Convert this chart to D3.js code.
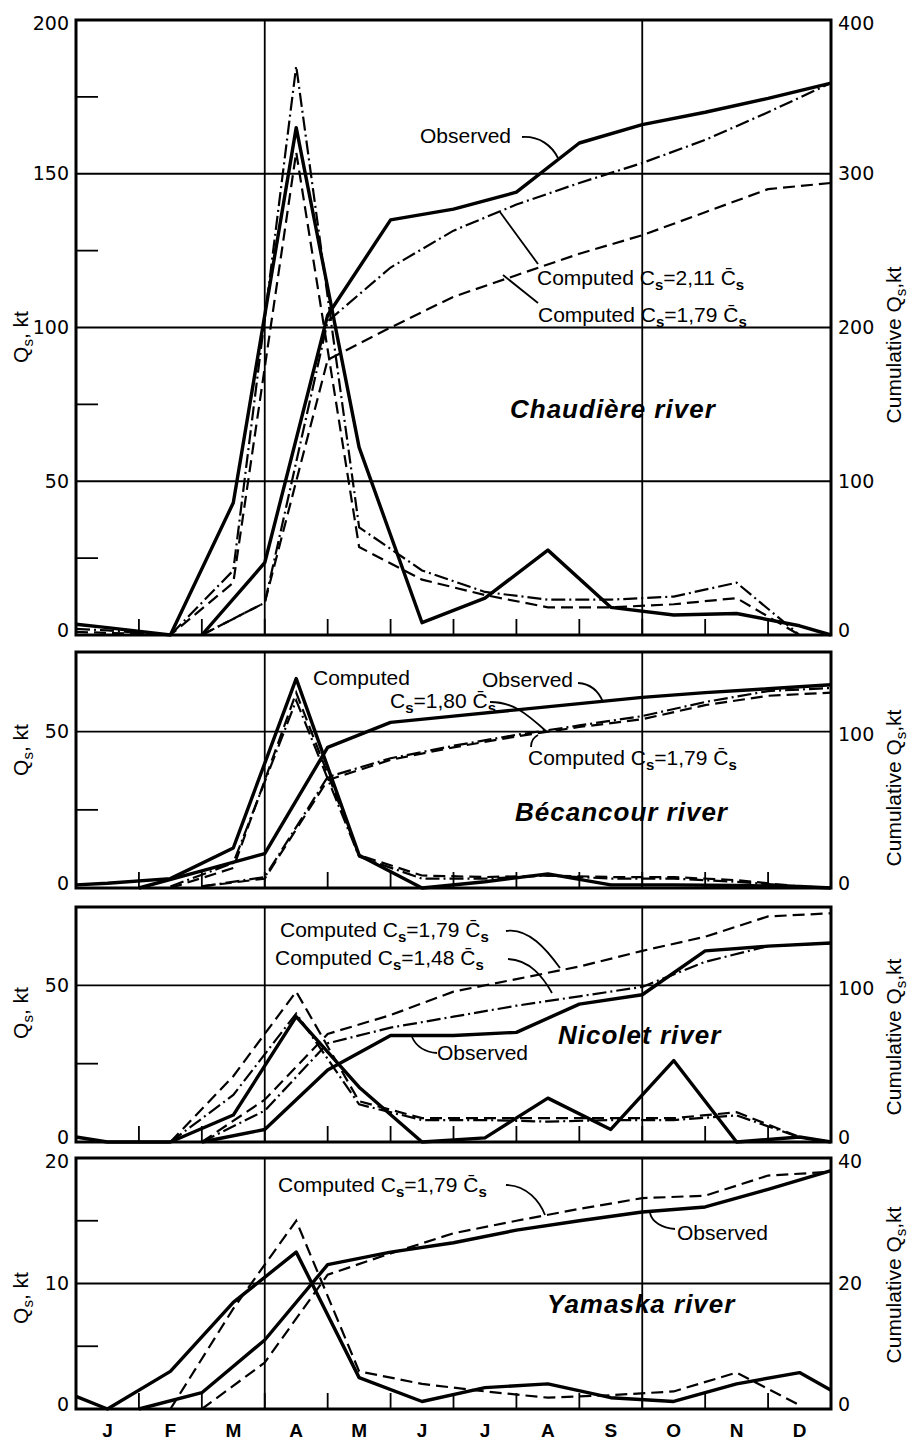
<!DOCTYPE html>
<html lang="en">
<head>
<meta charset="UTF-8">
<title>Monthly and cumulative suspended sediment load</title>
<style>
  body { margin: 0; background: #fff; }
  svg { display: block; }
  .frame { fill: none; stroke: #000; stroke-width: 3; }
  .grid { stroke: #000; stroke-width: 1.8; }
  .tick { stroke: #000; stroke-width: 1.8; }
  .tick-label { font-family: "DejaVu Sans", sans-serif; font-size: 19px; fill: #000; }
  .axis-title { font-family: "Liberation Sans", Arial, sans-serif; font-size: 21px; fill: #000; }
  .note { font-family: "Liberation Sans", Arial, sans-serif; font-size: 21px; fill: #000; }
  .river { font-family: "Liberation Sans", Arial, sans-serif; font-size: 26px; font-weight: bold; font-style: italic; letter-spacing: 1px; }
  .month { font-family: "Liberation Sans", Arial, sans-serif; font-size: 19px; font-weight: bold; }
  .leader { fill: none; stroke: #000; stroke-width: 1.8; }
  .observed { fill: none; stroke: #000; stroke-width: 3.4; stroke-linejoin: round; }
  .dashed { fill: none; stroke: #000; stroke-width: 2.2; stroke-dasharray: 12 6; }
  .dashdot { fill: none; stroke: #000; stroke-width: 2.2; stroke-dasharray: 14 4 2 4; }
</style>
</head>
<body>
<div id="chart"></div>
<script src="https://d3js.org/d3.v7.min.js"></script>
<script>
// ---- data ----
var months = ["J", "F", "M", "A", "M", "J", "J", "A", "S", "O", "N", "D"];
// x positions, in months from 1 January
var monthlyAt = [0, 0.5, 1.5, 2.5, 3.5, 4.5, 5.5, 6.5, 7.5, 8.5, 9.5, 10.5, 11.5, 12];
var cumulativeAt = [0, 1, 2, 3, 4, 5, 6, 7, 8, 9, 10, 11, 12];

// Chaudière river: monthly Qs (kt) and cumulative Qs (kt)
var chaudObs = [3.5, 2.4, 0, 43, 165, 61, 4, 12, 27.6, 9, 6.5, 7, 3, 0];
var chaudC211 = [2, 1.5, 0, 21, 185, 35, 21, 14, 11.5, 11.5, 12.5, 17, 0, null];
var chaudC179 = [1, 0.7, 0, 17, 157, 28.6, 18, 13, 9, 9, 10, 12, 0, null];
var chaudCumObs = [null, null, 0, 47, 208, 270, 277, 288, 320, 332, 340, 349, 359];
var chaudCumC211 = [null, null, 0, 21, 204, 239, 263, 280, 294, 307, 322, 340, 359];
var chaudCumC179 = [null, null, 0, 21, 179, 200, 220, 234, 248, 260, 275, 290, 294];
var chaudLeftTicks = [0, 50, 100, 150, 200];
var chaudMinorTicks = [25, 75, 125, 175];
var chaudRightTicks = [0, 100, 200, 300, 400];

// Bécancour river
var becObs = [1, 1.5, 3, 12.8, 67, 10.5, 0, 2, 4.5, 1, 1, 0.8, 0.5, 0];
var becC180 = [null, null, 0.5, 8, 60, 10, 3, 3, 4, 3, 3, 2, 0.5, 0];
var becC179 = [null, null, 0, 6.4, 62.5, 10.5, 4, 3.5, 4, 3.5, 3.5, 2.5, 0.5, 0];
var becCumObs = [null, 0, 11, 22, 90, 106, 110, 114, 118, 122, 125, 127.5, 130];
var becCumC180 = [null, null, 1, 7, 71, 83, 91, 98, 104, 110, 119, 126, 128];
var becCumC179 = [null, null, 1, 6, 69, 82, 90, 97, 103, 108, 117, 123, 125];
var becLeftTicks = [0, 50];
var becMinorTicks = [25];
var becRightTicks = [0, 100];

// Nicolet river
var nicObs = [1.6, 0, 0, 8.6, 40, 17.5, 0, 1.3, 14, 4, 26, 0, 1.6, 0];
var nicC179 = [null, null, 0, 21, 48, 13, 7.6, 7.6, 7.6, 7.6, 7.6, 9.5, 1.6, 0];
var nicC148 = [null, null, 0, 15, 41, 12, 7, 7, 6.5, 7, 7, 8.5, 1.5, 0];
var nicCumObs = [null, null, 0, 8, 46, 68, 68, 70, 88, 94, 122, 125, 127];
var nicCumC179 = [null, null, 0, 27, 69, 81, 96, 104, 112, 122, 131, 144, 146];
var nicCumC148 = [null, null, 0, 20, 63, 73, 80, 87, 93, 99, 115, 125, 127];
var nicLeftTicks = [0, 50];
var nicMinorTicks = [25];
var nicRightTicks = [0, 100];

// Yamaska river
var yamObs = [1, 0, 3, 8.5, 12.5, 2.5, 0.6, 1.7, 2, 0.9, 0.6, 2, 2.9, 1.5];
var yamC179 = [null, null, 0, 8, 15, 3, 2, 1.4, 0.9, 1.1, 1.4, 2.9, 0.3, null];
var yamCumObs = [null, 0, 2.6, 11, 23, 25, 26.5, 28.5, 30, 31.4, 32.2, 35, 38];
var yamCumC179 = [null, null, 0, 7.4, 21.4, 24.8, 28, 30, 31.9, 33.6, 34, 37.2, 37.8];
var yamLeftTicks = [0, 10, 20];
var yamMinorTicks = [5, 15];
var yamRightTicks = [0, 20, 40];

// ---- layout ----
var width = 914, height = 1443;
var left = 76, right = 831;

var svg = d3.select("#chart").append("svg")
  .attr("width", width)
  .attr("height", height);

var x = d3.scaleLinear().domain([0, 12]).range([left, right]);

function toPoints(xs, ys) {
  return xs.map(function(v, i) { return [v, ys[i]]; });
}

// "Computed Cs=k C̄s" style text
function csText(g, px, py, prefix, coef) {
  var t = g.append("text").attr("class", "note").attr("x", px).attr("y", py);
  if (prefix) t.append("tspan").text(prefix);
  t.append("tspan").text("C");
  t.append("tspan").attr("dy", 5).attr("font-size", 15).attr("font-weight", "bold").text("s");
  t.append("tspan").attr("dy", -5).text("=" + coef + " C\u0304");
  t.append("tspan").attr("dy", 5).attr("font-size", 15).attr("font-weight", "bold").text("s");
  return t;
}

var panels = [
  { river: "Chaudière river", top: 20, bottom: 635, max: 200,
    leftTicks: chaudLeftTicks, minor: chaudMinorTicks, rightTicks: chaudRightTicks,
    leftTitleY: 337, rightTitleY: 345, riverPos: [510, 418],
    monthly: [[chaudObs, "observed"], [chaudC211, "dashdot"], [chaudC179, "dashed"]],
    cumulative: [[chaudCumObs, "observed"], [chaudCumC211, "dashdot"], [chaudCumC179, "dashed"]],
    notes: function(g) {
      g.append("text").attr("class", "note").attr("x", 420).attr("y", 143).text("Observed");
      g.append("path").attr("class", "leader").attr("d", "M522,137 C540,136 552,146 558,158");
      csText(g, 537, 285, "Computed ", "2,11");
      g.append("path").attr("class", "leader").attr("d", "M538,264 L500,212");
      csText(g, 538, 322, "Computed ", "1,79");
      g.append("path").attr("class", "leader").attr("d", "M538,303 L503,275");
    } },
  { river: "Bécancour river", top: 652, bottom: 888, max: 75.5,
    leftTicks: becLeftTicks, minor: becMinorTicks, rightTicks: becRightTicks,
    leftTitleY: 750, rightTitleY: 788, riverPos: [515, 821],
    monthly: [[becObs, "observed"], [becC180, "dashdot"], [becC179, "dashed"]],
    cumulative: [[becCumObs, "observed"], [becCumC180, "dashdot"], [becCumC179, "dashed"]],
    notes: function(g) {
      g.append("text").attr("class", "note").attr("x", 313).attr("y", 685).text("Computed");
      csText(g, 390, 708, "", "1,80");
      g.append("path").attr("class", "leader").attr("d", "M490,702 C512,702 525,712 547,732");
      g.append("text").attr("class", "note").attr("x", 482).attr("y", 687).text("Observed");
      g.append("path").attr("class", "leader").attr("d", "M578,683 C592,684 599,692 603,702");
      csText(g, 528, 765, "Computed ", "1,79");
      g.append("path").attr("class", "leader").attr("d", "M531,747 C531,741 534,737 538,735");
    } },
  { river: "Nicolet river", top: 907, bottom: 1142, max: 75,
    leftTicks: nicLeftTicks, minor: nicMinorTicks, rightTicks: nicRightTicks,
    leftTitleY: 1013, rightTitleY: 1037, riverPos: [558, 1044],
    monthly: [[nicObs, "observed"], [nicC148, "dashdot"], [nicC179, "dashed"]],
    cumulative: [[nicCumObs, "observed"], [nicCumC148, "dashdot"], [nicCumC179, "dashed"]],
    notes: function(g) {
      csText(g, 280, 937, "Computed ", "1,79");
      g.append("path").attr("class", "leader").attr("d", "M506,931 C528,927 547,950 560,968");
      csText(g, 275, 965, "Computed ", "1,48");
      g.append("path").attr("class", "leader").attr("d", "M508,959 C530,960 543,977 552,993");
      g.append("text").attr("class", "note").attr("x", 437).attr("y", 1060).text("Observed");
      g.append("path").attr("class", "leader").attr("d", "M437,1053 C425,1052 416,1046 412,1037");
    } },
  { river: "Yamaska river", top: 1158, bottom: 1409, max: 20,
    leftTicks: yamLeftTicks, minor: yamMinorTicks, rightTicks: yamRightTicks,
    leftTitleY: 1298, rightTitleY: 1285, riverPos: [547, 1313],
    monthly: [[yamObs, "observed"], [yamC179, "dashed"]],
    cumulative: [[yamCumObs, "observed"], [yamCumC179, "dashed"]],
    notes: function(g) {
      csText(g, 278, 1192, "Computed ", "1,79");
      g.append("path").attr("class", "leader").attr("d", "M506,1185 C527,1185 540,1202 545,1215");
      g.append("text").attr("class", "note").attr("x", 677).attr("y", 1240).text("Observed");
      g.append("path").attr("class", "leader").attr("d", "M675,1229 C662,1228 652,1222 650,1213");
    } }
];

panels.forEach(function(p) {
  var g = svg.append("g");
  var y = d3.scaleLinear().domain([0, p.max]).range([p.bottom, p.top]);
  var y2 = d3.scaleLinear().domain([0, 2 * p.max]).range([p.bottom, p.top]);
  // zero labels sit a little above the bottom edge, top labels a little below the top
  var lift = function(d, i, arr) {
    if (d === 0) return -5;
    if (i === arr.length - 1 && y(d) <= p.top + 1) return 3;
    return 0;
  };

  // horizontal grid at major ticks
  g.selectAll(".hgrid").data(p.leftTicks.filter(function(d) { return d > 0 && d < p.max; }))
    .enter().append("line").attr("class", "grid")
    .attr("x1", left).attr("x2", right)
    .attr("y1", function(d) { return y(d); }).attr("y2", function(d) { return y(d); });
  // vertical grid at end of March and end of September
  g.selectAll(".vgrid").data([3, 9])
    .enter().append("line").attr("class", "grid")
    .attr("x1", function(d) { return x(d); }).attr("x2", function(d) { return x(d); })
    .attr("y1", p.top).attr("y2", p.bottom);
  // minor ticks on the left axis
  g.selectAll(".minor").data(p.minor)
    .enter().append("line").attr("class", "tick")
    .attr("x1", left).attr("x2", left + 22)
    .attr("y1", function(d) { return y(d); }).attr("y2", function(d) { return y(d); });
  // month boundary ticks
  g.selectAll(".mtick").data(d3.range(1, 12))
    .enter().append("line").attr("class", "tick")
    .attr("x1", function(d) { return x(d); }).attr("x2", function(d) { return x(d); })
    .attr("y1", p.bottom).attr("y2", p.bottom - 16);

  // tick labels
  g.selectAll(".ltl").data(p.leftTicks).enter().append("text")
    .attr("class", "tick-label").attr("text-anchor", "end")
    .attr("x", left - 7)
    .attr("y", function(d, i) { return y(d) + lift(d, i, p.leftTicks); })
    .attr("dy", "0.35em")
    .text(function(d) { return d; });
  g.selectAll(".rtl").data(p.rightTicks).enter().append("text")
    .attr("class", "tick-label").attr("text-anchor", "start")
    .attr("x", right + 7)
    .attr("y", function(d, i) { return y2(d) + lift(d, i, p.rightTicks); })
    .attr("dy", "0.35em")
    .text(function(d) { return d; });

  // axis titles
  var lt = g.append("text").attr("class", "axis-title").attr("text-anchor", "middle")
    .attr("transform", "translate(28," + p.leftTitleY + ") rotate(-90)");
  lt.append("tspan").text("Q");
  lt.append("tspan").attr("dy", 5).attr("font-size", 15).text("s");
  lt.append("tspan").attr("dy", -5).text(", kt");
  var rt = g.append("text").attr("class", "axis-title").attr("text-anchor", "middle")
    .attr("transform", "translate(901," + p.rightTitleY + ") rotate(-90)");
  rt.append("tspan").text("Cumulative Q");
  rt.append("tspan").attr("dy", 5).attr("font-size", 15).text("s");
  rt.append("tspan").attr("dy", -5).text(",kt");

  // series
  var lineL = d3.line().defined(function(d) { return d[1] != null; })
    .x(function(d) { return x(d[0]); }).y(function(d) { return y(d[1]); });
  var lineR = d3.line().defined(function(d) { return d[1] != null; })
    .x(function(d) { return x(d[0]); }).y(function(d) { return y2(d[1]); });
  p.monthly.forEach(function(s) {
    g.append("path").attr("class", s[1]).attr("d", lineL(toPoints(monthlyAt, s[0])));
  });
  p.cumulative.forEach(function(s) {
    g.append("path").attr("class", s[1]).attr("d", lineR(toPoints(cumulativeAt, s[0])));
  });

  // frame
  g.append("rect").attr("class", "frame")
    .attr("x", left).attr("y", p.top)
    .attr("width", right - left).attr("height", p.bottom - p.top);

  g.append("text").attr("class", "river")
    .attr("x", p.riverPos[0]).attr("y", p.riverPos[1]).text(p.river);
  p.notes(g);
});

// month labels under the last panel
svg.selectAll(".month").data(months).enter().append("text")
  .attr("class", "month").attr("text-anchor", "middle")
  .attr("x", function(d, i) { return x(i + 0.5); })
  .attr("y", 1437)
  .text(function(d) { return d; });
</script>
</body>
</html>
